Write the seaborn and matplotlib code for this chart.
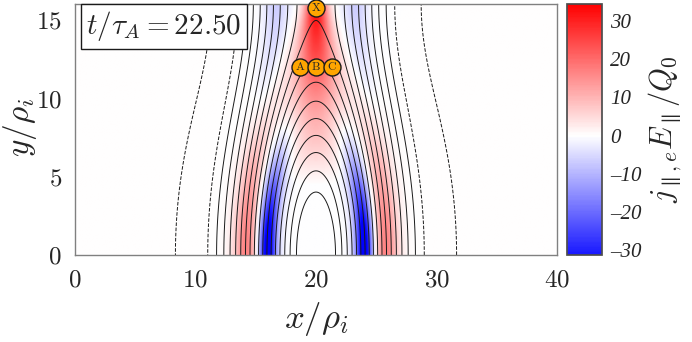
import numpy as np
import pandas as pd
import seaborn as sns
import matplotlib
matplotlib.use("Agg")
import matplotlib.pyplot as plt
from matplotlib.colors import Normalize

sns.set_theme(style="white")
plt.rcParams["mathtext.fontset"] = "cm"
plt.rcParams["font.family"] = ["DejaVu Serif"]

# snapshot info
time_label = "22.50"

# markers (x, y, name)
marker_x = [18.7, 20.0, 21.3, 20.0]
marker_y = [12.0, 12.0, 12.0, 15.75]
marker_names = ["A", "B", "C", "X"]

# flux function parameters
x_center = 20.0
sheet_width = 4.2      # width of the equilibrium current sheet
island_amp = 0.29      # island perturbation amplitude
island_decay = 5.2     # decay length of the perturbation
box_len_y = 16.0
n_closed = 9.5         # contour levels between O point and separatrix

# contour levels (in level units, separatrix = 0); negative flux ones are dashed
flux_levels = [-10.9, -8.9, -7.9, -6.9, -5.9, -4.9, -3.9, -2.9, -1.9, -0.9,
               0.1, 1.1, 2.1, 3.1, 4.1, 5.1, 6.1, 7.1, 8.1]
dashed_below = -8.4

# central current sheet: peak value, half width at the X point, widening per unit y
sheet_peak = 34.0
sheet_w_top = 0.9
sheet_w_slope = 0.22
sheet_y_start = 4.5

# field-aligned bands: amplitude, centre (in level units), width
band_amp = [-40.0, 17.0, -7.0]
band_center = [2.3, -2.8, -3.5]
band_width = [2.0, 2.4, 1.8]

x_ticks = [0, 10, 20, 30, 40]
y_ticks = [0, 5, 10, 15]
cbar_ticks = [-30, -20, -10, 0, 10, 20, 30]
cbar_min, cbar_max = -31.2, 34.4

x = np.linspace(0, 40, 401)
y = np.linspace(0, 16, 161)
X, Y = np.meshgrid(x, y)
s = X - x_center
psi = np.exp(-s**2 / (2 * sheet_width**2)) + island_amp * np.exp(-s**2 / (2 * island_decay**2)) * np.cos(np.pi * Y / box_len_y)
psi_o = 1 + island_amp
psi_sep = 1 - island_amp
dpsi = (psi_o - psi_sep) / n_closed
n = (psi - psi_sep) / dpsi

# vertical envelopes
sheet_w = sheet_w_top + sheet_w_slope * (box_len_y - Y)
sheet_ramp = np.clip((Y - sheet_y_start) / (box_len_y - sheet_y_start), 0, 1)
bottom = np.exp(-(Y / 5.5) ** 2)
outer_bottom = np.exp(-(Y / 7.5) ** 2)
top_side = np.clip((Y - 6.0) / 10.0, 0, 1)

field = (sheet_peak * np.exp(-(s / sheet_w) ** 2) * sheet_ramp
         + band_amp[0] * np.exp(-((n - band_center[0]) / band_width[0]) ** 2) * bottom
         + band_amp[1] * np.exp(-((n - band_center[1]) / band_width[1]) ** 2) * outer_bottom
         + band_amp[2] * np.exp(-((n - band_center[2]) / band_width[2]) ** 2) * top_side)

fig = plt.figure(figsize=(6.92, 3.42), dpi=100)
ax = fig.add_axes([75 / 692, 87 / 342, 482 / 692, 251 / 342])
cax = fig.add_axes([567 / 692, 87 / 342, 35 / 692, 251 / 342])

norm = Normalize(vmin=-cbar_max, vmax=cbar_max)
im = ax.imshow(field, origin="lower", extent=[0, 40, 0, 16], aspect="auto",
               cmap="bwr", norm=norm, interpolation="bilinear")

styles = ["dashed" if lv < dashed_below else "solid" for lv in flux_levels]
ax.contour(X, Y, n, levels=flux_levels, colors="k", linewidths=0.7, linestyles=styles)

pts = pd.DataFrame({"x": marker_x, "y": marker_y, "name": marker_names})
sns.scatterplot(data=pts, x="x", y="y", ax=ax, s=150, color="orange",
                edgecolor="k", linewidth=1.0, zorder=5, clip_on=False, legend=False)
for _, r in pts.iterrows():
    ax.text(r["x"], r["y"], r"$\mathrm{%s}$" % r["name"], ha="center", va="center",
            fontsize=8.5, zorder=6)

ax.text(0.95, 15.65, r"$t/\tau_A = %s$" % time_label, fontsize=21, va="top", ha="left",
        bbox=dict(boxstyle="square,pad=0.2", fc="white", ec="k", lw=1.0), zorder=7)

ax.set_xlim(0, 40)
ax.set_ylim(0, 16)
ax.set_xticks(x_ticks, [r"$%d$" % v for v in x_ticks], fontsize=18)
ax.set_yticks(y_ticks, [r"$%d$" % v for v in y_ticks], fontsize=18)
ax.set_xlabel(r"$x/\rho_i$", fontsize=25, labelpad=6)
ax.set_ylabel(r"$y/\rho_i$", fontsize=24)
ax.yaxis.set_label_coords(-0.075, 0.51)
for sp in ax.spines.values():
    sp.set_color("0.5")
    sp.set_linewidth(1.0)

cb = fig.colorbar(im, cax=cax, boundaries=np.linspace(cbar_min, cbar_max, 300))
cb.set_ticks(cbar_ticks)
cb.set_ticklabels([("\u2013%d" % -v) if v < 0 else "%d" % v for v in cbar_ticks])
cb.ax.tick_params(length=0, pad=6)
for t in cb.ax.get_yticklabels():
    t.set_fontfamily("Liberation Serif")
    t.set_fontstyle("italic")
    t.set_fontsize(15)
cb.outline.set_edgecolor("0.3")
cb.set_label(r"$j_{\parallel,e}E_\parallel/Q_0$", fontsize=22, labelpad=4)

fig.savefig("out.png", dpi=100)
